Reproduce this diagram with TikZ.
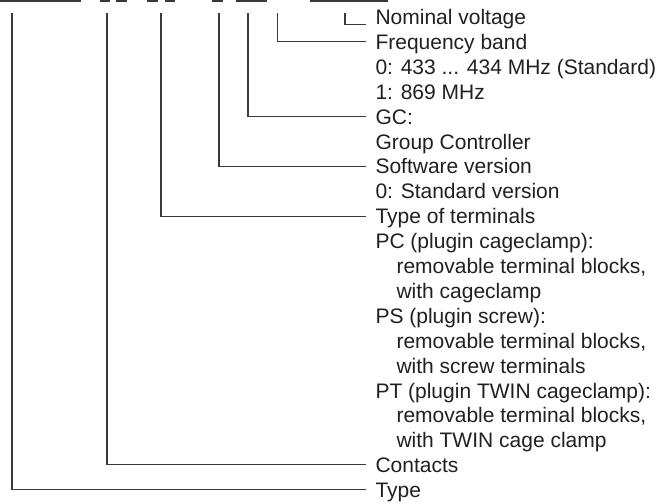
\documentclass[tikz,border=0pt]{standalone}
\usepackage{fontspec}
\setmainfont{Liberation Sans}
\definecolor{txt}{HTML}{231F20}
\definecolor{ln}{HTML}{3A3A3A}
\tikzset{
  lbl/.style={anchor=base west, inner sep=0pt, outer sep=0pt, text=txt, font=\fontsize{21}{25}\selectfont},
  conn/.style={draw=ln, line width=1.1pt},
  topbar/.style={draw=ln, line width=1.6pt}
}
\begin{document}
\begin{tikzpicture}[x=1pt,y=-1pt]
\useasboundingbox (0,0) rectangle (668,503);
% top code segments (cut-off order code)
\draw[topbar] (0,0.8) -- (81,0.8);
\draw[topbar] (100,0.8) -- (110,0.8);
\draw[topbar] (116,0.8) -- (127,0.8);
\draw[topbar] (147,0.8) -- (158,0.8);
\draw[topbar] (165,0.8) -- (175,0.8);
\draw[topbar] (212,0.8) -- (223,0.8);
\draw[topbar] (236,0.8) -- (267,0.8);
\draw[topbar] (310,0.8) -- (388,0.8);
% labels
\def\lx{375.5}
\def\ix{396.5}
\node[lbl] (nom)   at (\lx,24.5)  {Nominal voltage};
\node[lbl] (freq)  at (\lx,49.4)  {Frequency band};
\node[lbl] (f0)    at (\lx,74.3)  {0: 433 ... 434 MHz (Standard)};
\node[lbl] (f1)    at (\lx,99.2)  {1: 869 MHz};
\node[lbl] (gc)    at (\lx,124.1) {GC:};
\node[lbl] (gc1)   at (\lx,149.0) {Group Controller};
\node[lbl] (sw)    at (\lx,173.9) {Software version};
\node[lbl] (sw0)   at (\lx,198.8) {0: Standard version};
\node[lbl] (term)  at (\lx,223.7) {Type of terminals};
\node[lbl] (pc)    at (\lx,248.6) {PC (plugin cageclamp):};
\node[lbl] (pc1)   at (\ix,273.5) {removable terminal blocks,};
\node[lbl] (pc2)   at (\ix,298.4) {with cageclamp};
\node[lbl] (ps)    at (\lx,323.3) {PS (plugin screw):};
\node[lbl] (ps1)   at (\ix,348.2) {removable terminal blocks,};
\node[lbl] (ps2)   at (\ix,373.1) {with screw terminals};
\node[lbl] (pt)    at (\lx,398.0) {PT (plugin TWIN cageclamp):};
\node[lbl] (pt1)   at (\ix,422.9) {removable terminal blocks,};
\node[lbl] (pt2)   at (\ix,447.8) {with TWIN cage clamp};
\node[lbl] (cont)  at (\lx,472.3) {Contacts};
\node[lbl] (type)  at (\lx,497.2) {Type};
% connector start points
\coordinate (tType) at (12,13);
\coordinate (tCont) at (107,13);
\coordinate (tTerm) at (161,13);
\coordinate (tSw)   at (219,13);
\coordinate (tGc)   at (248,13);
\coordinate (tFreq) at (277.5,13);
\coordinate (tNom)  at (345,13);
% connectors
\draw[conn] (tNom)  |- ([xshift=-9.5pt,yshift=0.3pt]nom.base west);
\draw[conn] (tFreq) |- ([xshift=-9.5pt,yshift=7.5pt]freq.base west);
\draw[conn] (tGc)   |- ([xshift=-9.5pt,yshift=7.5pt]gc.base west);
\draw[conn] (tSw)   |- ([xshift=-9.5pt,yshift=7.5pt]sw.base west);
\draw[conn] (tTerm) |- ([xshift=-9.5pt,yshift=7.5pt]term.base west);
\draw[conn] (tCont) |- ([xshift=-9.5pt,yshift=7.5pt]cont.base west);
\draw[conn] (tType) |- ([xshift=-9.5pt,yshift=7.5pt]type.base west);
\end{tikzpicture}
\end{document}
